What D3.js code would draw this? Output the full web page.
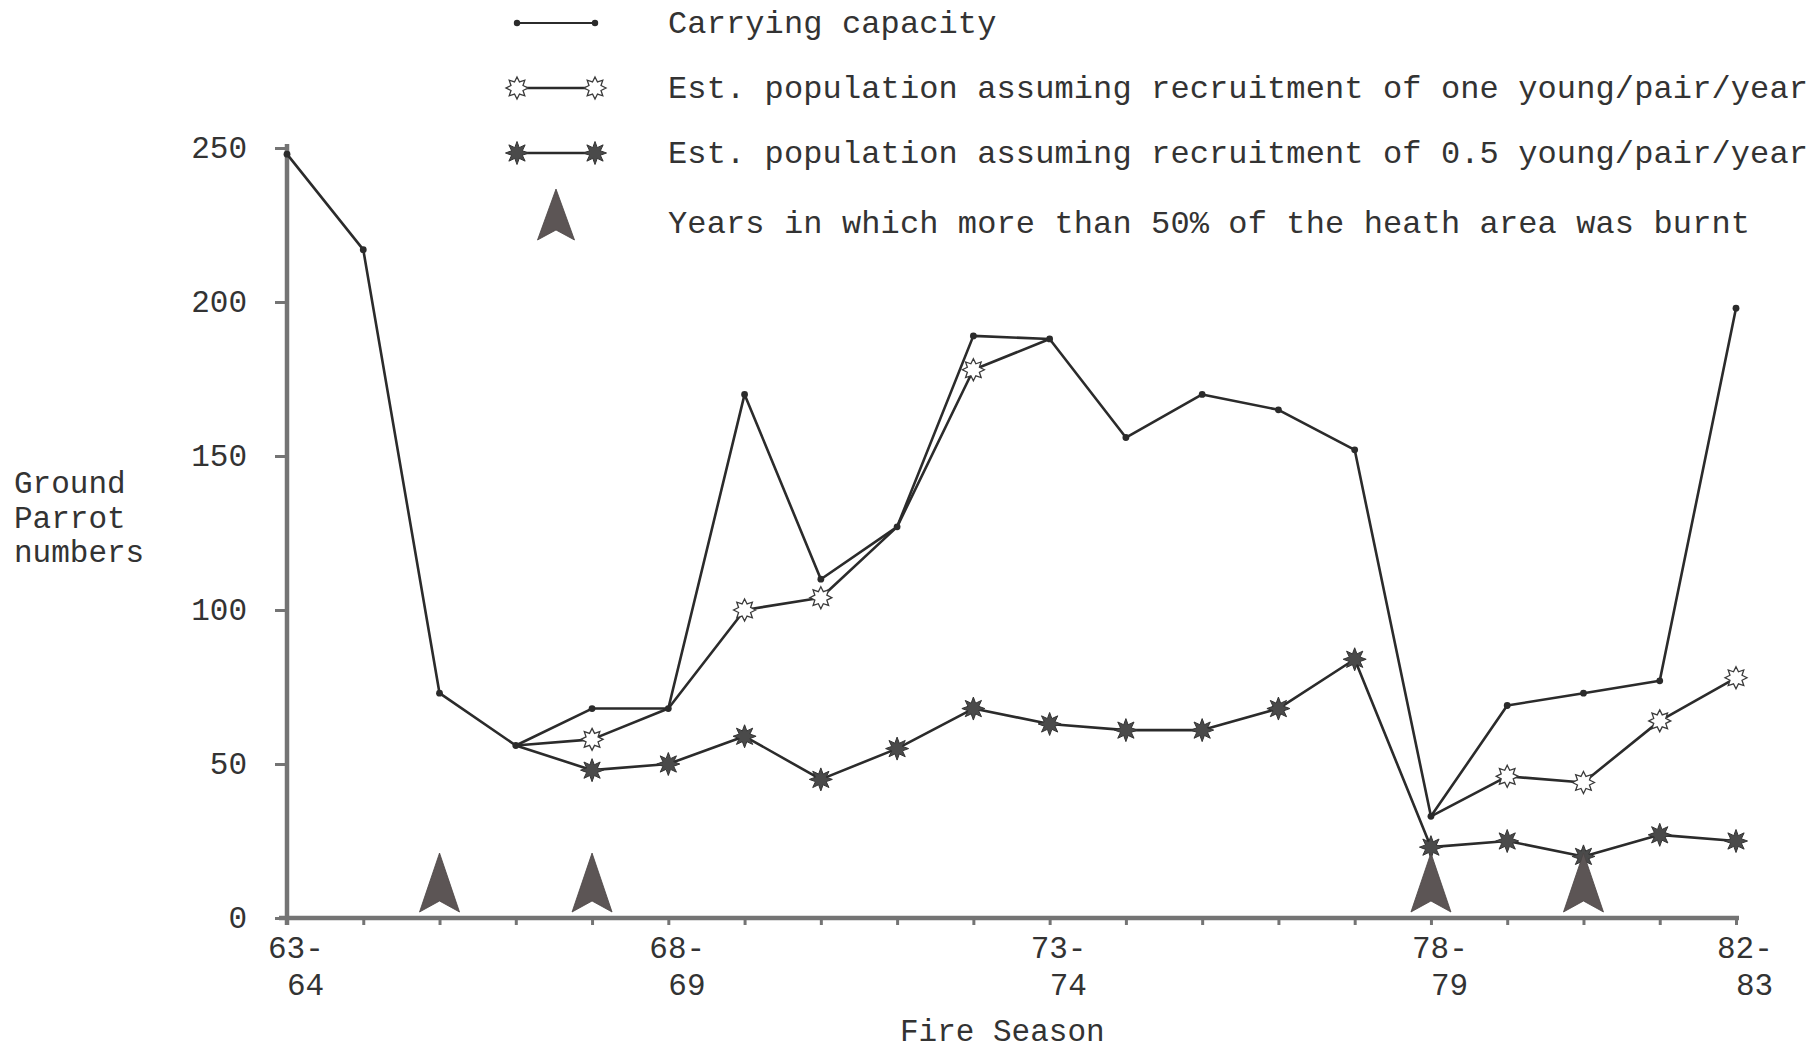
<!DOCTYPE html>
<html>
<head>
<meta charset="utf-8">
<script src="https://cdn.jsdelivr.net/npm/d3@7/dist/d3.min.js"></script>
<style>
  html, body { margin: 0; padding: 0; background: #ffffff; }
  svg { display: block; }
  text { font-family: "Liberation Mono", "DejaVu Sans Mono", monospace; fill: #333333; }
</style>
</head>
<body>
<svg id="chart" width="1815" height="1051"></svg>
<script>
// ---- data ----
const seasons = ["63-64","64-65","65-66","66-67","67-68","68-69","69-70","70-71","71-72","72-73",
                 "73-74","74-75","75-76","76-77","77-78","78-79","79-80","80-81","81-82","82-83"];
const carryingCapacity = [248,217,73,56,68,68,170,110,127,189,188,156,170,165,152,33,69,73,77,198];
const popOneYoung      = [null,null,null,56,58,68,100,104,127,178,188,null,null,null,null,33,46,44,64,78];
const popHalfYoung     = [null,null,null,56,48,50,59,45,55,68,63,61,61,68,84,23,25,20,27,25];
const fireYears = ["65-66","67-68","78-79","80-81"];
const yTicks = [0,50,100,150,200,250];
const xLabelSeasons = ["63-64","68-69","73-74","78-79","82-83"];
const legendLabels = [
  "Carrying capacity",
  "Est. population assuming recruitment of one young/pair/year",
  "Est. population assuming recruitment of 0.5 young/pair/year",
  "Years in which more than 50% of the heath area was burnt"
];
const yTitle = ["Ground","Parrot","numbers"];
const xTitle = "Fire Season";

// ---- setup ----
const svg = d3.select("#chart");
const lineColor = "#2b2b2b";
const axisColor = "#747474";
const arrowColor = "#5c5555";

const x = d3.scalePoint().domain(seasons).range([287, 1736]);
const y = d3.scaleLinear().domain([0, 250]).range([918, 148]);

// star path generator
function starPath(points, rOuter, rInner) {
  const pts = [];
  for (let i = 0; i < points * 2; i++) {
    const r = i % 2 === 0 ? rOuter : rInner;
    const a = Math.PI * i / points - Math.PI / 2;
    pts.push([r * Math.cos(a), r * Math.sin(a)]);
  }
  return "M" + pts.map(p => p[0].toFixed(2) + "," + p[1].toFixed(2)).join("L") + "Z";
}
const openStar = starPath(8, 11, 6.5);
const filledStar = starPath(8, 11.5, 5.8);
function arrowPath(w, h, notch) {
  return `M0,${-h} L${w/2},0 L0,${-notch} L${-w/2},0 Z`;
}

// ---- axes ----
const yAxis = d3.axisLeft(y).tickValues(yTicks).tickSize(12).tickSizeOuter(0).tickPadding(28)
  .tickFormat(d3.format("d"));
const gy = svg.append("g").attr("transform", `translate(${x.range()[0]},0)`).call(yAxis);
gy.select(".domain").remove();
gy.selectAll(".tick line").attr("stroke", axisColor).attr("stroke-width", 3);
gy.selectAll(".tick text").style("font-size", "31px").attr("fill", "#333");
gy.append("line").attr("x1", 0).attr("x2", 0).attr("y1", y(250) - 4).attr("y2", y(0) + 7)
  .attr("stroke", axisColor).attr("stroke-width", 4.5);

const xAxis = d3.axisBottom(x).tickSize(7).tickSizeOuter(0).tickFormat("");
const gx = svg.append("g").attr("transform", `translate(0,${y(0)})`).call(xAxis);
gx.select(".domain").remove();
gx.selectAll(".tick line").attr("stroke", axisColor).attr("stroke-width", 3);
gx.append("line").attr("x1", x.range()[0] - 8).attr("x2", x.range()[1] + 3).attr("y1", 0).attr("y2", 0)
  .attr("stroke", axisColor).attr("stroke-width", 4.5);

// x labels (two lines)
const xl = svg.append("g");
xLabelSeasons.forEach(s => {
  const [a, b] = s.split("-");
  xl.append("text").attr("x", x(s) - 19).attr("y", 958).style("font-size", "31px").text(a + "-");
  xl.append("text").attr("x", x(s)).attr("y", 995).style("font-size", "31px").text(b);
});

// axis titles
const yt = svg.append("text").attr("x", 14).attr("y", 493).style("font-size", "31px");
yTitle.forEach((t, i) => {
  yt.append("tspan").attr("x", 14).attr("dy", i === 0 ? 0 : 34.5).text(t);
});
svg.append("text").attr("x", 900).attr("y", 1041).style("font-size", "31px").text(xTitle);

// ---- lines ----
function series(vals) { return seasons.map((s, i) => ({ s, v: vals[i], c: carryingCapacity[i] })); }
const line = d3.line().defined(d => d.v != null).x(d => x(d.s)).y(d => y(d.v));

const capData = series(carryingCapacity);
const oneData = series(popOneYoung);
const halfData = series(popHalfYoung);

[capData, oneData, halfData].forEach(data => {
  svg.append("path").datum(data).attr("d", line).attr("fill", "none")
    .attr("stroke", lineColor).attr("stroke-width", 2.6).attr("stroke-linejoin", "round");
});

// markers
svg.append("g").selectAll("circle").data(capData).join("circle")
  .attr("cx", d => x(d.s)).attr("cy", d => y(d.v)).attr("r", 3.4).attr("fill", lineColor);

svg.append("g").selectAll("path").data(oneData.filter(d => d.v != null && d.v !== d.c)).join("path")
  .attr("d", openStar).attr("transform", d => `translate(${x(d.s)},${y(d.v)})`)
  .attr("fill", "#ffffff").attr("stroke", "#3a3a3a").attr("stroke-width", 1.3);

svg.append("g").selectAll("path").data(halfData.filter(d => d.v != null && d.v !== d.c)).join("path")
  .attr("d", filledStar).attr("transform", d => `translate(${x(d.s)},${y(d.v)})`)
  .attr("fill", "#4a4a4a").attr("stroke", "#333").attr("stroke-width", 1);

// fire arrows
svg.append("g").selectAll("path").data(fireYears).join("path")
  .attr("d", arrowPath(40, 59, 11))
  .attr("transform", d => `translate(${x(d)},${y(0) - 6})`)
  .attr("fill", arrowColor).attr("stroke", "#4a4444").attr("stroke-width", 0.8);

// ---- legend ----
const lg = svg.append("g");
const lx1 = 517, lx2 = 595, textX = 668;
const rowY = [23, 88, 153];
const rowBase = [33, 98, 163, 233];
// row 1
lg.append("line").attr("x1", lx1).attr("x2", lx2).attr("y1", rowY[0]).attr("y2", rowY[0])
  .attr("stroke", lineColor).attr("stroke-width", 2.2);
[lx1, lx2].forEach(px => lg.append("circle").attr("cx", px).attr("cy", rowY[0]).attr("r", 3.2).attr("fill", lineColor));
// row 2
lg.append("line").attr("x1", lx1).attr("x2", lx2).attr("y1", rowY[1]).attr("y2", rowY[1])
  .attr("stroke", lineColor).attr("stroke-width", 2.6);
[lx1, lx2].forEach(px => lg.append("path").attr("d", openStar).attr("transform", `translate(${px},${rowY[1]})`)
  .attr("fill", "#fff").attr("stroke", "#3a3a3a").attr("stroke-width", 1.3));
// row 3
lg.append("line").attr("x1", lx1).attr("x2", lx2).attr("y1", rowY[2]).attr("y2", rowY[2])
  .attr("stroke", lineColor).attr("stroke-width", 2.6);
[lx1, lx2].forEach(px => lg.append("path").attr("d", filledStar).attr("transform", `translate(${px},${rowY[2]})`)
  .attr("fill", "#4a4a4a").attr("stroke", "#333").attr("stroke-width", 1));
// row 4 arrow
lg.append("path").attr("d", arrowPath(37, 51, 10)).attr("transform", `translate(556,240)`)
  .attr("fill", arrowColor).attr("stroke", "#4a4444").attr("stroke-width", 0.8);

legendLabels.forEach((t, i) => {
  lg.append("text").attr("x", textX).attr("y", rowBase[i]).style("font-size", "32px")
    .style("letter-spacing", "0.12px").text(t);
});
</script>
</body>
</html>
